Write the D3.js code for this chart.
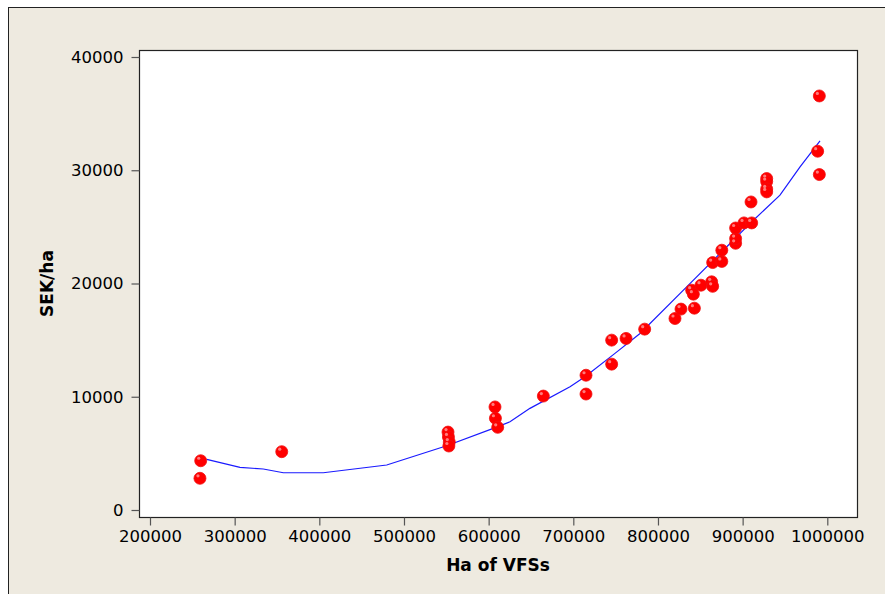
<!DOCTYPE html>
<html>
<head>
<meta charset="utf-8">
<script src="https://cdn.jsdelivr.net/npm/d3@7"></script>
<style>
  html, body { margin: 0; padding: 0; background: #ffffff; }
  svg { display: block; }
  text { font-family: "DejaVu Sans", Verdana, sans-serif; fill: #000; }
</style>
</head>
<body>
<svg id="chart" width="885" height="594"></svg>
<script>
// Observed hectares of VFSs and the cost per hectare (SEK/ha)
const haVFS = [259900, 259000, 355600, 552000, 552500, 553500, 553000, 607500, 608000, 610700,
  664600, 715000, 715000, 745300, 745300, 762300, 784300, 820100, 827200, 843000,
  839800, 841800, 850800, 863400, 864600, 864600, 875400, 875400, 891700, 891700,
  891700, 901600, 910700, 909900, 928400, 928400, 928400, 928400, 988600, 990600, 990600];
const sekPerHa = [4350, 2800, 5150, 6880, 6450, 6000, 5650, 9100, 8100, 7300,
  10060, 11900, 10240, 15000, 12880, 15150, 15970, 16910, 17740, 17820,
  19410, 19060, 19850, 20150, 19750, 21850, 21950, 22940, 23550, 23970,
  24900, 25350, 25350, 27200, 29270, 29000, 28350, 28090, 31680, 29620, 36560];

// Smoothed (lowess) trend through the observations
const fitX = [267000, 306300, 333800, 357500, 404700, 479600, 550500, 605500, 625200, 648800,
  696100, 713800, 749200, 778800, 833900, 873300, 912700, 944100, 967800, 991400];
const fitY = [4474, 3768, 3618, 3291, 3291, 3971, 5674, 7209, 7791, 8974,
  10880, 11760, 13830, 15590, 19700, 22650, 25590, 27800, 30290, 32590];

const xTicks = [200000, 300000, 400000, 500000, 600000, 700000, 800000, 900000, 1000000];
const yTicks = [0, 10000, 20000, 30000, 40000];

const svg = d3.select("#chart");

// Graph region background
svg.append("rect")
  .attr("x", 8.5).attr("y", 7.5)
  .attr("width", 900).attr("height", 600)
  .attr("fill", "#eeeae0")
  .attr("stroke", "#222").attr("stroke-width", 1);

const plot = { left: 139, top: 50, right: 857, bottom: 517 };

const x = d3.scaleLinear().domain([200000, 1000000]).range([150, 827.3]);
const y = d3.scaleLinear().domain([0, 40000]).range([510, 57]);

// Data region
svg.append("rect")
  .attr("x", plot.left + 0.5).attr("y", plot.top + 0.5)
  .attr("width", plot.right - plot.left).attr("height", plot.bottom - plot.top)
  .attr("fill", "#ffffff")
  .attr("stroke", "#222").attr("stroke-width", 1.2);

// Axes
const xAxis = svg.append("g")
  .attr("transform", `translate(0,${plot.bottom + 0.5})`)
  .call(d3.axisBottom(x).tickValues(xTicks).tickFormat(d3.format("d")).tickSizeOuter(0).tickSizeInner(8).tickPadding(5));
const yAxis = svg.append("g")
  .attr("transform", `translate(${plot.left + 0.5},0)`)
  .call(d3.axisLeft(y).tickValues(yTicks).tickFormat(d3.format("d")).tickSizeOuter(0).tickSizeInner(8).tickPadding(8));

[xAxis, yAxis].forEach(g => {
  g.select(".domain").remove();
  g.selectAll(".tick line").attr("stroke", "#555").attr("stroke-width", 1.2);
  g.selectAll(".tick text")
    .attr("font-family", "DejaVu Sans, Verdana, sans-serif")
    .attr("font-size", 16.5).attr("fill", "#111");
});

// Axis titles
svg.append("text")
  .attr("x", (plot.left + plot.right) / 2).attr("y", 571)
  .attr("text-anchor", "middle")
  .attr("font-size", 17).attr("font-weight", "bold")
  .text("Ha of VFSs");
svg.append("text")
  .attr("transform", `translate(53,${(plot.top + plot.bottom) / 2}) rotate(-90)`)
  .attr("text-anchor", "middle")
  .attr("font-size", 17).attr("font-weight", "bold")
  .text("SEK/ha");

// Trend line
const line = d3.line().x(d => x(d[0])).y(d => y(d[1]));
svg.append("path")
  .datum(d3.zip(fitX, fitY))
  .attr("d", line)
  .attr("fill", "none")
  .attr("stroke", "#1a1aff")
  .attr("stroke-width", 1.2);

// Observations
const pts = d3.zip(haVFS, sekPerHa);
svg.append("g").selectAll("circle")
  .data(pts).join("circle")
  .attr("cx", d => x(d[0])).attr("cy", d => y(d[1]))
  .attr("r", 6)
  .attr("fill", "#ff0000")
  .attr("stroke", "#f01010").attr("stroke-width", 0.8);
svg.append("g").selectAll("circle")
  .data(pts).join("circle")
  .attr("cx", d => x(d[0]) - 2).attr("cy", d => y(d[1]) - 2.5)
  .attr("r", 1.6)
  .attr("fill", "#ff9a9a").attr("opacity", 0.8);
</script>
</body>
</html>
